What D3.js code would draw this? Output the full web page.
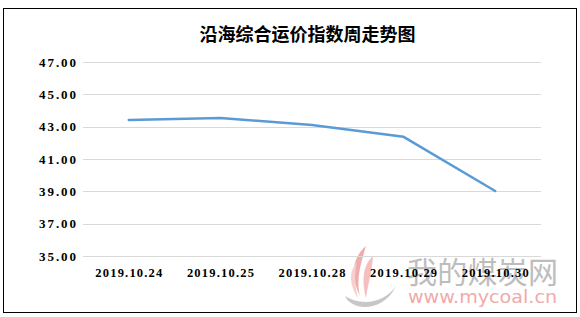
<!DOCTYPE html>
<html>
<head>
<meta charset="utf-8">
<script src="https://cdn.jsdelivr.net/npm/d3@7"></script>
<style>
  body { margin: 0; background: #fff; }
  svg { display: block; }
</style>
</head>
<body>
<svg id="chart" width="580" height="317"></svg>
<script>
// data
const title = "沿海综合运价指数周走势图";
const dates = ["2019.10.24", "2019.10.25", "2019.10.28", "2019.10.29", "2019.10.30"];
const values = [43.42, 43.54, 43.11, 42.37, 39.02];
const yTicks = [35, 37, 39, 41, 43, 45, 47];

const svg = d3.select("#chart");
const width = +svg.attr("width");
const height = +svg.attr("height");

// outer frame
svg.append("rect")
  .attr("x", 3.5).attr("y", 8.5)
  .attr("width", 573).attr("height", 304)
  .attr("fill", "#fff")
  .attr("stroke", "#000")
  .attr("stroke-width", 1);

const x = d3.scaleBand().domain(dates).range([83, 541]);
const y = d3.scaleLinear().domain([35, 47]).range([256, 62]);

// watermark (behind everything else)
const wm = svg.append("g").attr("class", "watermark");
const flame = wm.append("g").attr("opacity", 0.55);
flame.append("path")
  .attr("d", "M366,246 C352,258 350,276 360,296 C356,280 360,266 366,246 Z")
  .attr("fill", "#e46a6a");
flame.append("path")
  .attr("d", "M373,256 C362,266 362,282 366,298 C368,284 372,272 373,256 Z")
  .attr("fill", "#ee8c8c");
flame.append("path")
  .attr("d", "M357,262 C348,272 350,286 358,298 C355,286 354,274 357,262 Z")
  .attr("fill", "#f2a8a8");
flame.append("path")
  .attr("d", "M345,296 C352,312 384,312 396,286 C384,304 360,306 345,296 Z")
  .attr("fill", "#9a9a9a");
wm.append("text")
  .attr("x", 407).attr("y", 283)
  .attr("font-family", "'Noto Sans CJK SC', sans-serif")
  .attr("font-size", 30)
  .attr("textLength", 151)
  .attr("fill", "#bdbdbd")
  .text("我的煤炭网");
wm.append("text")
  .attr("x", 408).attr("y", 303)
  .attr("font-family", "'DejaVu Sans', sans-serif")
  .attr("font-size", 17)
  .attr("textLength", 149)
  .attr("lengthAdjust", "spacingAndGlyphs")
  .attr("fill", "#f0aaaa")
  .text("www.mycoal.cn");

// gridlines
svg.append("g")
  .selectAll("line")
  .data(yTicks)
  .join("line")
  .attr("x1", 83).attr("x2", 541)
  .attr("y1", d => Math.round(y(d)) + 0.5)
  .attr("y2", d => Math.round(y(d)) + 0.5)
  .attr("stroke", "#d9d9d9")
  .attr("stroke-width", 1);

// y labels
svg.append("g")
  .selectAll("text")
  .data(yTicks)
  .join("text")
  .attr("x", 76)
  .attr("y", d => y(d) + 4.5)
  .attr("text-anchor", "end")
  .attr("font-family", "'Liberation Serif', serif")
  .attr("font-weight", "bold")
  .attr("font-size", 13)
  .attr("textLength", 37)
  .attr("lengthAdjust", "spacing")
  .text(d => d.toFixed(2));

// x labels
svg.append("g")
  .selectAll("text")
  .data(dates)
  .join("text")
  .attr("x", d => x(d) + x.bandwidth() / 2)
  .attr("y", 277)
  .attr("text-anchor", "middle")
  .attr("font-family", "'Liberation Serif', serif")
  .attr("font-weight", "bold")
  .attr("font-size", 12.5)
  .attr("textLength", 67)
  .attr("lengthAdjust", "spacing")
  .text(d => d);

// the line
const line = d3.line()
  .x((d, i) => x(dates[i]) + x.bandwidth() / 2)
  .y(d => y(d));

svg.append("path")
  .datum(values)
  .attr("d", line)
  .attr("fill", "none")
  .attr("stroke", "#5b9bd5")
  .attr("stroke-width", 2.5)
  .attr("stroke-linejoin", "round")
  .attr("stroke-linecap", "round");

// title
svg.append("text")
  .attr("x", 307.5)
  .attr("y", 41)
  .attr("text-anchor", "middle")
  .attr("font-family", "'Noto Sans CJK SC', sans-serif")
  .attr("font-weight", "bold")
  .attr("font-size", 18)
  .text(title);
</script>
</body>
</html>
